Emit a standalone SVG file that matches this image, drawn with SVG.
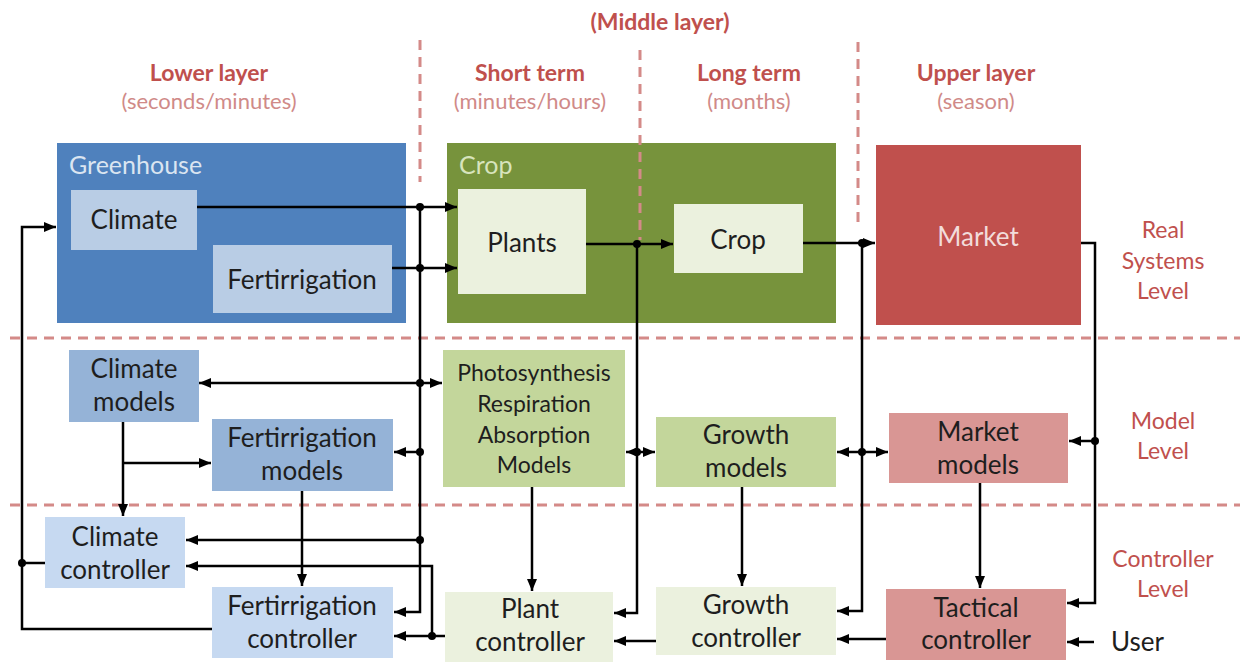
<svg xmlns="http://www.w3.org/2000/svg" width="1243" height="662" viewBox="0 0 1243 662">
  <style>
    text { font-family: Lato, "Liberation Sans", sans-serif; }
    .hdr { font-weight: bold; font-size: 23px; fill: #bf504d; text-anchor: middle; }
    .sub { font-size: 22px; fill: #d08a88; text-anchor: middle; }
    .lvl { font-size: 23px; fill: #c0504d; text-anchor: middle; }
    .nt { font-size: 26px; fill: #1e1e1e; text-anchor: middle; }
    .nts { font-size: 23px; fill: #1e1e1e; text-anchor: middle; }
    .cap { font-size: 25px; }
    .div { stroke: #d48a88; stroke-width: 3; stroke-dasharray: 10 7; fill: none; }
    .ln { stroke: #000; stroke-width: 2.5; fill: none; }
    .ar { marker-end: url(#ah); }
    .ar2 { marker-start: url(#ah); marker-end: url(#ah); }
    .dot { fill: #000; }
  </style>
  <defs>
    <marker id="ah" viewBox="0 0 12 10" refX="12" refY="5" markerWidth="12" markerHeight="10" markerUnits="userSpaceOnUse" orient="auto-start-reverse">
      <path d="M0,0 L12,5 L0,10 z" fill="#000"/>
    </marker>
  </defs>

  <rect width="1243" height="662" fill="#fff"/>

  <!-- layer headers -->
  <g id="headers">
    <text class="hdr" x="660" y="30">(Middle layer)</text>
    <text class="hdr" x="209" y="81">Lower layer</text>
    <text class="sub" x="209" y="109">(seconds/minutes)</text>
    <text class="hdr" x="530" y="81">Short term</text>
    <text class="sub" x="530" y="109">(minutes/hours)</text>
    <text class="hdr" x="749" y="81">Long term</text>
    <text class="sub" x="749" y="109">(months)</text>
    <text class="hdr" x="976" y="81">Upper layer</text>
    <text class="sub" x="976" y="109">(season)</text>
  </g>

  <!-- level labels -->
  <g id="levels">
    <text class="lvl" x="1163" y="238">Real</text>
    <text class="lvl" x="1163" y="269">Systems</text>
    <text class="lvl" x="1163" y="299">Level</text>
    <text class="lvl" x="1163" y="429">Model</text>
    <text class="lvl" x="1163" y="459">Level</text>
    <text class="lvl" x="1163" y="567">Controller</text>
    <text class="lvl" x="1163" y="597">Level</text>
  </g>

  <!-- real systems level -->
  <g id="greenhouse">
    <rect x="57" y="143" width="349" height="180" fill="#4f81bd"/>
    <text class="cap" x="69" y="174" fill="#dbe5f1">Greenhouse</text>
  </g>
  <g id="climate">
    <rect x="71" y="190" width="126" height="60" fill="#b9cde5"/>
    <text class="nt" x="134" y="229">Climate</text>
  </g>
  <g id="fertirrigation">
    <rect x="213" y="245" width="179" height="68" fill="#b9cde5"/>
    <text class="nt" x="302" y="289">Fertirrigation</text>
  </g>
  <g id="crop-system">
    <rect x="447" y="143" width="389" height="180" fill="#77933c"/>
    <text class="cap" x="459" y="174" fill="#d7e4bd">Crop</text>
  </g>
  <g id="plants">
    <rect x="458" y="189" width="128" height="105" fill="#ebf1de"/>
    <text class="nt" x="522" y="252">Plants</text>
  </g>
  <g id="crop">
    <rect x="674" y="204" width="129" height="69" fill="#ebf1de"/>
    <text class="nt" x="738" y="249">Crop</text>
  </g>
  <g id="market">
    <rect x="876" y="145" width="205" height="180" fill="#c0504d"/>
    <text class="nt" x="978" y="246" style="fill:#f2dcdb">Market</text>
  </g>

  <!-- model level -->
  <g id="climate-models">
    <rect x="69" y="350" width="130" height="72" fill="#95b3d7"/>
    <text class="nt" x="134" y="378">Climate</text>
    <text class="nt" x="134" y="411">models</text>
  </g>
  <g id="fertirrigation-models">
    <rect x="212" y="419" width="181" height="72" fill="#95b3d7"/>
    <text class="nt" x="302" y="447">Fertirrigation</text>
    <text class="nt" x="302" y="480">models</text>
  </g>
  <g id="plant-models">
    <rect x="443" y="350" width="182" height="137" fill="#c3d69b"/>
    <text class="nts" x="534" y="381">Photosynthesis</text>
    <text class="nts" x="534" y="412">Respiration</text>
    <text class="nts" x="534" y="443">Absorption</text>
    <text class="nts" x="534" y="473">Models</text>
  </g>
  <g id="growth-models">
    <rect x="656" y="417" width="180" height="70" fill="#c3d69b"/>
    <text class="nt" x="746" y="444">Growth</text>
    <text class="nt" x="746" y="477">models</text>
  </g>
  <g id="market-models">
    <rect x="889" y="413" width="179" height="70" fill="#d99694"/>
    <text class="nt" x="978" y="441">Market</text>
    <text class="nt" x="978" y="474">models</text>
  </g>

  <!-- controller level -->
  <g id="climate-controller">
    <rect x="45" y="517" width="140" height="71" fill="#c6d9f1"/>
    <text class="nt" x="115" y="546">Climate</text>
    <text class="nt" x="115" y="579">controller</text>
  </g>
  <g id="fertirrigation-controller">
    <rect x="212" y="587" width="181" height="71" fill="#c6d9f1"/>
    <text class="nt" x="302" y="615">Fertirrigation</text>
    <text class="nt" x="302" y="648">controller</text>
  </g>
  <g id="plant-controller">
    <rect x="445" y="592" width="168" height="70" fill="#ebf1de"/>
    <text class="nt" x="530" y="618">Plant</text>
    <text class="nt" x="530" y="651">controller</text>
  </g>
  <g id="growth-controller">
    <rect x="656" y="587" width="180" height="68" fill="#ebf1de"/>
    <text class="nt" x="746" y="614">Growth</text>
    <text class="nt" x="746" y="647">controller</text>
  </g>
  <g id="tactical-controller">
    <rect x="886" y="589" width="180" height="71" fill="#d99694"/>
    <text class="nt" x="976" y="617">Tactical</text>
    <text class="nt" x="976" y="649">controller</text>
  </g>
  <g id="user">
    <text class="nt" x="1111" y="651" style="text-anchor:start">User</text>
  </g>

  <!-- layer and level dividers -->
  <g id="dividers">
    <line class="div" x1="420" y1="40" x2="420" y2="182"/>
    <line class="div" x1="640" y1="50" x2="640" y2="240"/>
    <line class="div" x1="858" y1="42" x2="858" y2="225"/>
    <line class="div" x1="10" y1="338" x2="1240" y2="338"/>
    <line class="div" x1="10" y1="505" x2="1240" y2="505"/>
  </g>

  <!-- connectors -->
  <g id="connectors">
    <!-- greenhouse to plants, feeding the lower-layer bus -->
    <path class="ln ar" d="M197,207 H457"/>
    <path class="ln ar" d="M392,268 H457"/>
    <path class="ln ar" d="M420,207 V612 H394"/>
    <path class="ln ar2" d="M199,383 H442"/>
    <path class="ln ar" d="M420,452 H394"/>
    <path class="ln ar" d="M420,540 H186"/>
    <path class="ln ar" d="M445,636 H394"/>
    <path class="ln ar" d="M432,636 V566 H186"/>
    <!-- actuation loop back to the greenhouse -->
    <path class="ln ar" d="M212,629 H22 V227 H56"/>
    <path class="ln" d="M45,563 H22"/>
    <path class="ln ar" d="M123,422 V516"/>
    <path class="ln ar" d="M123,463 H211"/>
    <path class="ln ar" d="M302,491 V586"/>
    <!-- plants to crop, middle-layer bus -->
    <path class="ln ar" d="M586,244 H673"/>
    <path class="ln ar" d="M637,244 V613 H614"/>
    <path class="ln ar2" d="M626,452 H655"/>
    <path class="ln ar" d="M532,487 V591"/>
    <path class="ln ar" d="M742,487 V586"/>
    <path class="ln ar" d="M656,641 H614"/>
    <!-- crop to market, upper-layer bus -->
    <path class="ln ar" d="M803,243 H875"/>
    <path class="ln ar" d="M862,243 V611 H837"/>
    <path class="ln ar2" d="M837,452 H888"/>
    <path class="ln ar" d="M886,639 H837"/>
    <path class="ln ar" d="M1081,243 H1095 V603 H1067"/>
    <path class="ln ar" d="M1095,441 H1069"/>
    <path class="ln ar" d="M980,483 V588"/>
    <path class="ln ar" d="M1094,642 H1067"/>
    <!-- junctions -->
    <circle class="dot" cx="420" cy="207" r="4"/>
    <circle class="dot" cx="420" cy="268" r="4"/>
    <circle class="dot" cx="420" cy="383" r="4"/>
    <circle class="dot" cx="420" cy="452" r="4"/>
    <circle class="dot" cx="420" cy="540" r="4"/>
    <circle class="dot" cx="432" cy="636" r="4"/>
    <circle class="dot" cx="22" cy="563" r="4"/>
    <circle class="dot" cx="637" cy="244" r="4"/>
    <circle class="dot" cx="637" cy="452" r="4"/>
    <circle class="dot" cx="862" cy="243" r="4"/>
    <circle class="dot" cx="862" cy="452" r="4"/>
    <circle class="dot" cx="1095" cy="441" r="4"/>
  </g>
</svg>
